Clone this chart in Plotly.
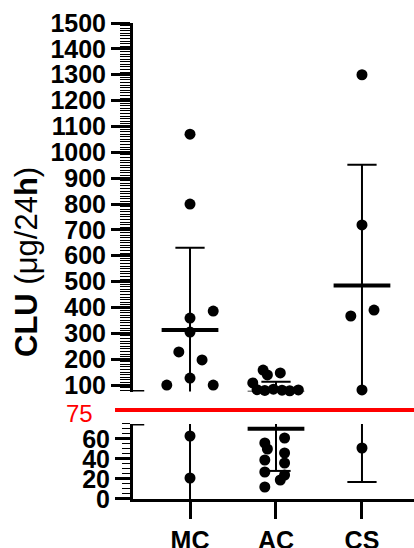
import numpy as np
import plotly.graph_objects as go

categories = ["MC", "AC", "CS"]
mc_values = [1070, 800, 386, 359, 305, 228, 197, 127, 100, 100, 63, 21]
ac_values = [158, 147, 139, 108, 82, 79, 84, 80, 78, 81,
             61, 56, 50, 46, 39, 36, 27, 24, 19, 12]
cs_values = [1300, 719, 390, 367, 81, 51]
threshold = 75
upper_ticks = list(range(100, 1600, 100))
lower_ticks = [0, 20, 40, 60]

# horizontal scatter layout of the dots (category units)
mc_offset = [0, 0, 0.27, 0, 0, -0.13, 0.14, 0, -0.27, 0.27, 0, 0]
ac_offset = [-0.15, 0.05, -0.10, -0.27, -0.22, -0.13, -0.03, 0.07, 0.16, 0.26,
             0.10, -0.13, -0.10, 0.10, -0.13, 0.10, -0.13, 0.10, 0.05, -0.13]
cs_offset = [0, 0, 0.14, -0.13, 0, 0]

fig = go.Figure()
groups = [mc_values, ac_values, cs_values]
offsets = [mc_offset, ac_offset, cs_offset]

for i, (vals, offs) in enumerate(zip(groups, offsets)):
    v = np.array(vals, dtype=float)
    xs = i + np.array(offs, dtype=float)
    m = v.mean()
    sd = v.std(ddof=1)
    for xa, ya in (("x2", "y"), ("x", "y2")):
        fig.add_trace(go.Scatter(x=[i, i], y=[m - sd, m + sd], mode="lines",
                                 line=dict(color="black", width=2),
                                 xaxis=xa, yaxis=ya, hoverinfo="skip"))
        fig.add_trace(go.Scatter(x=[i - 0.17, i + 0.17, None, i - 0.17, i + 0.17],
                                 y=[m + sd, m + sd, None, m - sd, m - sd], mode="lines",
                                 line=dict(color="black", width=2),
                                 xaxis=xa, yaxis=ya, hoverinfo="skip"))
        fig.add_trace(go.Scatter(x=[i - 0.33, i + 0.33], y=[m, m], mode="lines",
                                 line=dict(color="black", width=4),
                                 xaxis=xa, yaxis=ya, hoverinfo="skip"))
    hi = v >= threshold
    fig.add_trace(go.Scatter(x=xs[hi], y=v[hi], mode="markers",
                             marker=dict(color="black", size=11),
                             xaxis="x2", yaxis="y", cliponaxis=False))
    fig.add_trace(go.Scatter(x=xs[~hi], y=v[~hi], mode="markers",
                             marker=dict(color="black", size=11),
                             xaxis="x", yaxis="y2", cliponaxis=False))

xrange = [-0.663, 2.605]
tickfont = dict(size=25, weight="bold", color="black",
                family="Arial, Liberation Sans, sans-serif")

fig.update_layout(
    width=414, height=548,
    margin=dict(l=133, r=0, t=20, b=49, autoexpand=False),
    plot_bgcolor="white", paper_bgcolor="white",
    showlegend=False,
    font=dict(family="Arial, Liberation Sans, sans-serif", color="black"),
    xaxis=dict(domain=[0, 1], anchor="y2", range=xrange, automargin=False,
               tickvals=[0, 1, 2], ticktext=categories,
               showline=True, linewidth=3, linecolor="black",
               ticks="outside", ticklen=17, tickwidth=3, tickcolor="black",
               tickfont=tickfont, showgrid=False, zeroline=False),
    xaxis2=dict(domain=[0, 1], anchor="y", range=xrange, matches="x",
                visible=False),
    yaxis=dict(domain=[0.2244, 0.9937], anchor="x2", range=[threshold, 1500],
               tickvals=upper_ticks, automargin=False,
               showline=True, linewidth=3, linecolor="black",
               ticks="outside", ticklen=19, tickwidth=3, tickcolor="black",
               minor=dict(ticks="outside", tickmode="linear", tick0=0, dtick=10,
                          ticklen=10, tickwidth=1, tickcolor="black", showgrid=False),
               tickfont=tickfont, showgrid=False, zeroline=False),
    yaxis2=dict(domain=[0, 0.1566], anchor="x", range=[0, threshold],
                tickvals=lower_ticks, automargin=False,
                showline=True, linewidth=3, linecolor="black",
                ticks="outside", ticklen=15, tickwidth=3, tickcolor="black",
                minor=dict(ticks="outside", tickmode="linear", tick0=0, dtick=5,
                           ticklen=8, tickwidth=1, tickcolor="black", showgrid=False),
                tickfont=tickfont, showgrid=False, zeroline=False),
)

# axis break stubs
for yr in ("y", "y2"):
    fig.add_shape(type="line", xref="paper", yref=yr, x0=-0.006, x1=0.04,
                  y0=threshold, y1=threshold, line=dict(color="black", width=3))

# red threshold line in the break
fig.add_shape(type="line", xref="paper", yref="paper", x0=-0.064, x1=1,
              y0=0.1858, y1=0.1858, line=dict(color="red", width=4))
fig.add_annotation(text=str(threshold), xref="paper", yref="paper",
                   x=-0.189, y=0.1795, showarrow=False, xanchor="center", yanchor="middle",
                   font=dict(color="red", size=24, family="Arial, Liberation Sans, sans-serif"))

fig.add_annotation(text="<b>CLU</b> (μg/24<b>h</b>)", xref="paper", yref="paper",
                   x=-0.377, y=0.495, showarrow=False, textangle=-90,
                   xanchor="center", yanchor="middle",
                   font=dict(color="black", size=31, family="Arial, Liberation Sans, sans-serif"))

fig.write_html("out.html")
